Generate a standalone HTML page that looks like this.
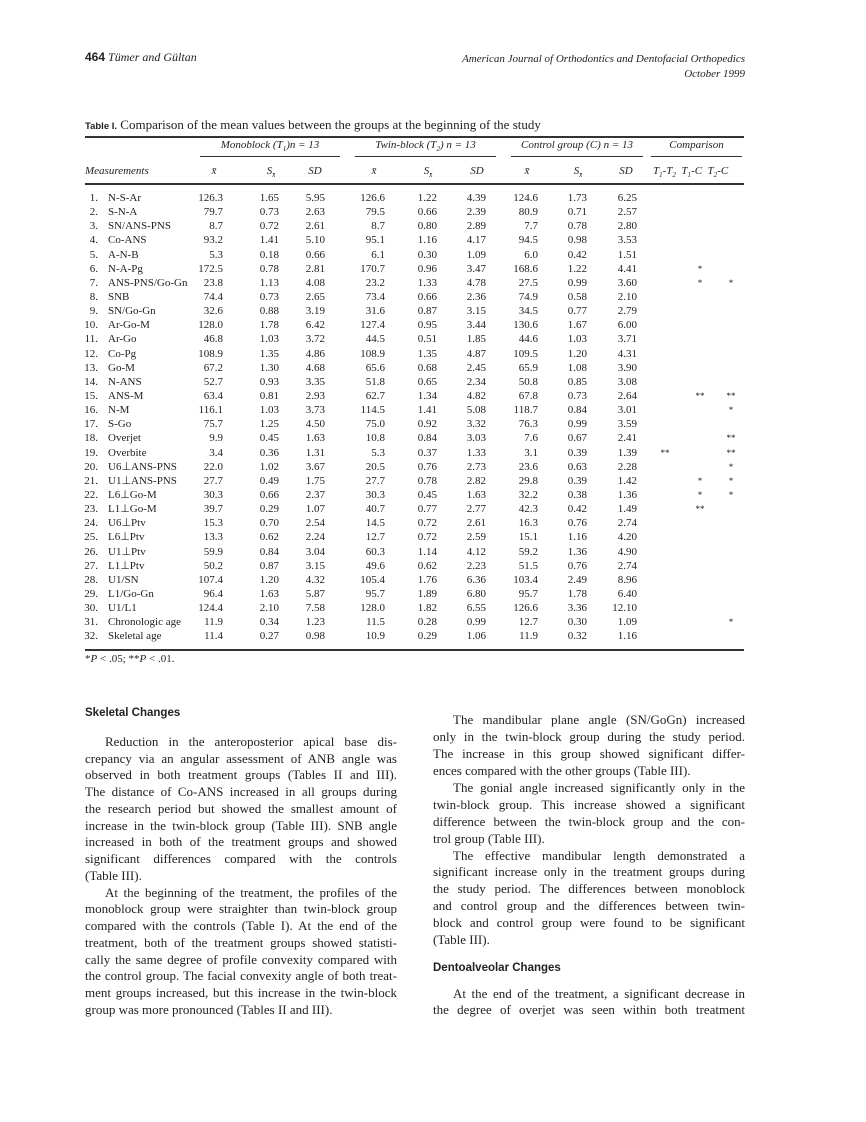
<!DOCTYPE html>
<html><head><meta charset="utf-8"><style>
body{margin:0;background:#fff;}
#p{position:relative;width:866px;height:1122px;background:#fff;color:#222;font-family:"Liberation Serif",serif;overflow:hidden}
.a{position:absolute;white-space:nowrap}
.r{position:absolute;height:14px;line-height:14px;font-size:11px;left:0;width:866px}
.r span{position:absolute;top:0}
.n{right:768px;text-align:right}
.l{left:108px}
.c1{right:643px}.c2{right:587px}.c3{right:541px}
.c4{right:481px}.c5{right:429px}.c6{right:380px}
.c7{right:328px}.c8{right:279px}.c9{right:229px}
.s1,.s2,.s3{width:24px;text-align:center;font-size:9px}
.s1{left:653px}.s2{left:688px}.s3{left:719px}
.hr{position:absolute;background:#333}
.t{position:absolute;width:312px;font-size:13px;line-height:16px;height:16px;text-align:justify;text-align-last:justify;white-space:nowrap}
.t.e{text-align-last:left}
.t.i{text-indent:20px}
.h{position:absolute;font-family:"Liberation Sans",sans-serif;font-weight:bold;font-size:11.5px}
.hd{position:absolute;font-style:italic;font-size:11px;text-align:center}
</style></head><body><div id="p">
<div class="a" style="left:85px;top:50px;font-size:12px"><b style="font-family:'Liberation Sans',sans-serif">464</b> <i>Tümer and Gültan</i></div>
<div class="a" style="right:121px;top:52px;font-size:11px;font-style:italic;text-align:right;line-height:15px">American Journal of Orthodontics and Dentofacial Orthopedics<br>October 1999</div>
<div class="a" style="left:85px;top:117px;font-size:13px"><b style="font-family:'Liberation Sans',sans-serif;font-size:9.5px">Table I.</b> Comparison of the mean values between the groups at the beginning of the study</div>
<div class="hr" style="left:85px;top:136px;width:659px;height:1.5px"></div>
<div class="hd" style="left:200px;width:140px;top:139px">Monoblock (T<sub style="font-size:7px">1</sub>)n = 13</div>
<div class="hd" style="left:355px;width:141px;top:139px">Twin-block (T<sub style="font-size:7px">2</sub>) n = 13</div>
<div class="hd" style="left:511px;width:132px;top:139px">Control group (C) n = 13</div>
<div class="hd" style="left:651px;width:91px;top:139px">Comparison</div>
<div class="hr" style="left:200px;top:156px;width:140px;height:1px"></div>
<div class="hr" style="left:355px;top:156px;width:141px;height:1px"></div>
<div class="hr" style="left:511px;top:156px;width:132px;height:1px"></div>
<div class="hr" style="left:651px;top:156px;width:91px;height:1px"></div>
<div class="hd" style="left:85px;top:165px;text-align:left">Measurements</div>
<div class="hd" style="left:204px;width:20px;top:165px">x̄</div>
<div class="hd" style="left:261px;width:20px;top:165px">S<sub style="font-size:7px">x̄</sub></div>
<div class="hd" style="left:305px;width:20px;top:165px">SD</div>
<div class="hd" style="left:364px;width:20px;top:165px">x̄</div>
<div class="hd" style="left:418px;width:20px;top:165px">S<sub style="font-size:7px">x̄</sub></div>
<div class="hd" style="left:467px;width:20px;top:165px">SD</div>
<div class="hd" style="left:517px;width:20px;top:165px">x̄</div>
<div class="hd" style="left:568px;width:20px;top:165px">S<sub style="font-size:7px">x̄</sub></div>
<div class="hd" style="left:616px;width:20px;top:165px">SD</div>
<div class="hd" style="left:653px;top:165px;text-align:left">T<sub style="font-size:7px">1</sub>-T<sub style="font-size:7px">2</sub>&nbsp; T<sub style="font-size:7px">1</sub>-C&nbsp; T<sub style="font-size:7px">2</sub>-C</div>
<div class="hr" style="left:85px;top:183px;width:659px;height:2px"></div>

<div class="r" style="top:191px"><span class="n">1.</span><span class="l">N-S-Ar</span><span class="c1">126.3</span><span class="c2">1.65</span><span class="c3">5.95</span><span class="c4">126.6</span><span class="c5">1.22</span><span class="c6">4.39</span><span class="c7">124.6</span><span class="c8">1.73</span><span class="c9">6.25</span></div>
<div class="r" style="top:205px"><span class="n">2.</span><span class="l">S-N-A</span><span class="c1">79.7</span><span class="c2">0.73</span><span class="c3">2.63</span><span class="c4">79.5</span><span class="c5">0.66</span><span class="c6">2.39</span><span class="c7">80.9</span><span class="c8">0.71</span><span class="c9">2.57</span></div>
<div class="r" style="top:219px"><span class="n">3.</span><span class="l">SN/ANS-PNS</span><span class="c1">8.7</span><span class="c2">0.72</span><span class="c3">2.61</span><span class="c4">8.7</span><span class="c5">0.80</span><span class="c6">2.89</span><span class="c7">7.7</span><span class="c8">0.78</span><span class="c9">2.80</span></div>
<div class="r" style="top:233px"><span class="n">4.</span><span class="l">Co-ANS</span><span class="c1">93.2</span><span class="c2">1.41</span><span class="c3">5.10</span><span class="c4">95.1</span><span class="c5">1.16</span><span class="c6">4.17</span><span class="c7">94.5</span><span class="c8">0.98</span><span class="c9">3.53</span></div>
<div class="r" style="top:248px"><span class="n">5.</span><span class="l">A-N-B</span><span class="c1">5.3</span><span class="c2">0.18</span><span class="c3">0.66</span><span class="c4">6.1</span><span class="c5">0.30</span><span class="c6">1.09</span><span class="c7">6.0</span><span class="c8">0.42</span><span class="c9">1.51</span></div>
<div class="r" style="top:262px"><span class="n">6.</span><span class="l">N-A-Pg</span><span class="c1">172.5</span><span class="c2">0.78</span><span class="c3">2.81</span><span class="c4">170.7</span><span class="c5">0.96</span><span class="c6">3.47</span><span class="c7">168.6</span><span class="c8">1.22</span><span class="c9">4.41</span><span class="s2">*</span></div>
<div class="r" style="top:276px"><span class="n">7.</span><span class="l">ANS-PNS/Go-Gn</span><span class="c1">23.8</span><span class="c2">1.13</span><span class="c3">4.08</span><span class="c4">23.2</span><span class="c5">1.33</span><span class="c6">4.78</span><span class="c7">27.5</span><span class="c8">0.99</span><span class="c9">3.60</span><span class="s2">*</span><span class="s3">*</span></div>
<div class="r" style="top:290px"><span class="n">8.</span><span class="l">SNB</span><span class="c1">74.4</span><span class="c2">0.73</span><span class="c3">2.65</span><span class="c4">73.4</span><span class="c5">0.66</span><span class="c6">2.36</span><span class="c7">74.9</span><span class="c8">0.58</span><span class="c9">2.10</span></div>
<div class="r" style="top:304px"><span class="n">9.</span><span class="l">SN/Go-Gn</span><span class="c1">32.6</span><span class="c2">0.88</span><span class="c3">3.19</span><span class="c4">31.6</span><span class="c5">0.87</span><span class="c6">3.15</span><span class="c7">34.5</span><span class="c8">0.77</span><span class="c9">2.79</span></div>
<div class="r" style="top:318px"><span class="n">10.</span><span class="l">Ar-Go-M</span><span class="c1">128.0</span><span class="c2">1.78</span><span class="c3">6.42</span><span class="c4">127.4</span><span class="c5">0.95</span><span class="c6">3.44</span><span class="c7">130.6</span><span class="c8">1.67</span><span class="c9">6.00</span></div>
<div class="r" style="top:332px"><span class="n">11.</span><span class="l">Ar-Go</span><span class="c1">46.8</span><span class="c2">1.03</span><span class="c3">3.72</span><span class="c4">44.5</span><span class="c5">0.51</span><span class="c6">1.85</span><span class="c7">44.6</span><span class="c8">1.03</span><span class="c9">3.71</span></div>
<div class="r" style="top:347px"><span class="n">12.</span><span class="l">Co-Pg</span><span class="c1">108.9</span><span class="c2">1.35</span><span class="c3">4.86</span><span class="c4">108.9</span><span class="c5">1.35</span><span class="c6">4.87</span><span class="c7">109.5</span><span class="c8">1.20</span><span class="c9">4.31</span></div>
<div class="r" style="top:361px"><span class="n">13.</span><span class="l">Go-M</span><span class="c1">67.2</span><span class="c2">1.30</span><span class="c3">4.68</span><span class="c4">65.6</span><span class="c5">0.68</span><span class="c6">2.45</span><span class="c7">65.9</span><span class="c8">1.08</span><span class="c9">3.90</span></div>
<div class="r" style="top:375px"><span class="n">14.</span><span class="l">N-ANS</span><span class="c1">52.7</span><span class="c2">0.93</span><span class="c3">3.35</span><span class="c4">51.8</span><span class="c5">0.65</span><span class="c6">2.34</span><span class="c7">50.8</span><span class="c8">0.85</span><span class="c9">3.08</span></div>
<div class="r" style="top:389px"><span class="n">15.</span><span class="l">ANS-M</span><span class="c1">63.4</span><span class="c2">0.81</span><span class="c3">2.93</span><span class="c4">62.7</span><span class="c5">1.34</span><span class="c6">4.82</span><span class="c7">67.8</span><span class="c8">0.73</span><span class="c9">2.64</span><span class="s2">**</span><span class="s3">**</span></div>
<div class="r" style="top:403px"><span class="n">16.</span><span class="l">N-M</span><span class="c1">116.1</span><span class="c2">1.03</span><span class="c3">3.73</span><span class="c4">114.5</span><span class="c5">1.41</span><span class="c6">5.08</span><span class="c7">118.7</span><span class="c8">0.84</span><span class="c9">3.01</span><span class="s3">*</span></div>
<div class="r" style="top:417px"><span class="n">17.</span><span class="l">S-Go</span><span class="c1">75.7</span><span class="c2">1.25</span><span class="c3">4.50</span><span class="c4">75.0</span><span class="c5">0.92</span><span class="c6">3.32</span><span class="c7">76.3</span><span class="c8">0.99</span><span class="c9">3.59</span></div>
<div class="r" style="top:431px"><span class="n">18.</span><span class="l">Overjet</span><span class="c1">9.9</span><span class="c2">0.45</span><span class="c3">1.63</span><span class="c4">10.8</span><span class="c5">0.84</span><span class="c6">3.03</span><span class="c7">7.6</span><span class="c8">0.67</span><span class="c9">2.41</span><span class="s3">**</span></div>
<div class="r" style="top:446px"><span class="n">19.</span><span class="l">Overbite</span><span class="c1">3.4</span><span class="c2">0.36</span><span class="c3">1.31</span><span class="c4">5.3</span><span class="c5">0.37</span><span class="c6">1.33</span><span class="c7">3.1</span><span class="c8">0.39</span><span class="c9">1.39</span><span class="s1">**</span><span class="s3">**</span></div>
<div class="r" style="top:460px"><span class="n">20.</span><span class="l">U6⊥ANS-PNS</span><span class="c1">22.0</span><span class="c2">1.02</span><span class="c3">3.67</span><span class="c4">20.5</span><span class="c5">0.76</span><span class="c6">2.73</span><span class="c7">23.6</span><span class="c8">0.63</span><span class="c9">2.28</span><span class="s3">*</span></div>
<div class="r" style="top:474px"><span class="n">21.</span><span class="l">U1⊥ANS-PNS</span><span class="c1">27.7</span><span class="c2">0.49</span><span class="c3">1.75</span><span class="c4">27.7</span><span class="c5">0.78</span><span class="c6">2.82</span><span class="c7">29.8</span><span class="c8">0.39</span><span class="c9">1.42</span><span class="s2">*</span><span class="s3">*</span></div>
<div class="r" style="top:488px"><span class="n">22.</span><span class="l">L6⊥Go-M</span><span class="c1">30.3</span><span class="c2">0.66</span><span class="c3">2.37</span><span class="c4">30.3</span><span class="c5">0.45</span><span class="c6">1.63</span><span class="c7">32.2</span><span class="c8">0.38</span><span class="c9">1.36</span><span class="s2">*</span><span class="s3">*</span></div>
<div class="r" style="top:502px"><span class="n">23.</span><span class="l">L1⊥Go-M</span><span class="c1">39.7</span><span class="c2">0.29</span><span class="c3">1.07</span><span class="c4">40.7</span><span class="c5">0.77</span><span class="c6">2.77</span><span class="c7">42.3</span><span class="c8">0.42</span><span class="c9">1.49</span><span class="s2">**</span></div>
<div class="r" style="top:516px"><span class="n">24.</span><span class="l">U6⊥Ptv</span><span class="c1">15.3</span><span class="c2">0.70</span><span class="c3">2.54</span><span class="c4">14.5</span><span class="c5">0.72</span><span class="c6">2.61</span><span class="c7">16.3</span><span class="c8">0.76</span><span class="c9">2.74</span></div>
<div class="r" style="top:530px"><span class="n">25.</span><span class="l">L6⊥Ptv</span><span class="c1">13.3</span><span class="c2">0.62</span><span class="c3">2.24</span><span class="c4">12.7</span><span class="c5">0.72</span><span class="c6">2.59</span><span class="c7">15.1</span><span class="c8">1.16</span><span class="c9">4.20</span></div>
<div class="r" style="top:545px"><span class="n">26.</span><span class="l">U1⊥Ptv</span><span class="c1">59.9</span><span class="c2">0.84</span><span class="c3">3.04</span><span class="c4">60.3</span><span class="c5">1.14</span><span class="c6">4.12</span><span class="c7">59.2</span><span class="c8">1.36</span><span class="c9">4.90</span></div>
<div class="r" style="top:559px"><span class="n">27.</span><span class="l">L1⊥Ptv</span><span class="c1">50.2</span><span class="c2">0.87</span><span class="c3">3.15</span><span class="c4">49.6</span><span class="c5">0.62</span><span class="c6">2.23</span><span class="c7">51.5</span><span class="c8">0.76</span><span class="c9">2.74</span></div>
<div class="r" style="top:573px"><span class="n">28.</span><span class="l">U1/SN</span><span class="c1">107.4</span><span class="c2">1.20</span><span class="c3">4.32</span><span class="c4">105.4</span><span class="c5">1.76</span><span class="c6">6.36</span><span class="c7">103.4</span><span class="c8">2.49</span><span class="c9">8.96</span></div>
<div class="r" style="top:587px"><span class="n">29.</span><span class="l">L1/Go-Gn</span><span class="c1">96.4</span><span class="c2">1.63</span><span class="c3">5.87</span><span class="c4">95.7</span><span class="c5">1.89</span><span class="c6">6.80</span><span class="c7">95.7</span><span class="c8">1.78</span><span class="c9">6.40</span></div>
<div class="r" style="top:601px"><span class="n">30.</span><span class="l">U1/L1</span><span class="c1">124.4</span><span class="c2">2.10</span><span class="c3">7.58</span><span class="c4">128.0</span><span class="c5">1.82</span><span class="c6">6.55</span><span class="c7">126.6</span><span class="c8">3.36</span><span class="c9">12.10</span></div>
<div class="r" style="top:615px"><span class="n">31.</span><span class="l">Chronologic age</span><span class="c1">11.9</span><span class="c2">0.34</span><span class="c3">1.23</span><span class="c4">11.5</span><span class="c5">0.28</span><span class="c6">0.99</span><span class="c7">12.7</span><span class="c8">0.30</span><span class="c9">1.09</span><span class="s3">*</span></div>
<div class="r" style="top:629px"><span class="n">32.</span><span class="l">Skeletal age</span><span class="c1">11.4</span><span class="c2">0.27</span><span class="c3">0.98</span><span class="c4">10.9</span><span class="c5">0.29</span><span class="c6">1.06</span><span class="c7">11.9</span><span class="c8">0.32</span><span class="c9">1.16</span></div>
<div class="hr" style="left:85px;top:649px;width:659px;height:2px"></div>
<div class="a" style="left:85px;top:653px;font-size:11px">*<i>P</i> &lt; .05; **<i>P</i> &lt; .01.</div>

<div class="h" style="left:85px;top:707px">Skeletal Changes</div>
<div class="t i" style="left:85px;top:734px">Reduction in the anteroposterior apical base dis-</div>
<div class="t" style="left:85px;top:751px">crepancy via an angular assessment of ANB angle was</div>
<div class="t" style="left:85px;top:767px">observed in both treatment groups (Tables II and III).</div>
<div class="t" style="left:85px;top:784px">The distance of Co-ANS increased in all groups during</div>
<div class="t" style="left:85px;top:801px">the research period but showed the smallest amount of</div>
<div class="t" style="left:85px;top:818px">increase in the twin-block group (Table III). SNB angle</div>
<div class="t" style="left:85px;top:834px">increased in both of the treatment groups and showed</div>
<div class="t" style="left:85px;top:851px">significant differences compared with the controls</div>
<div class="t e" style="left:85px;top:868px">(Table III).</div>
<div class="t i" style="left:85px;top:885px">At the beginning of the treatment, the profiles of the</div>
<div class="t" style="left:85px;top:901px">monoblock group were straighter than twin-block group</div>
<div class="t" style="left:85px;top:918px">compared with the controls (Table I). At the end of the</div>
<div class="t" style="left:85px;top:935px">treatment, both of the treatment groups showed statisti-</div>
<div class="t" style="left:85px;top:952px">cally the same degree of profile convexity compared with</div>
<div class="t" style="left:85px;top:968px">the control group. The facial convexity angle of both treat-</div>
<div class="t" style="left:85px;top:985px">ment groups increased, but this increase in the twin-block</div>
<div class="t e" style="left:85px;top:1002px">group was more pronounced (Tables II and III).</div>

<div class="t i" style="left:433px;top:712px">The mandibular plane angle (SN/GoGn) increased</div>
<div class="t" style="left:433px;top:729px">only in the twin-block group during the study period.</div>
<div class="t" style="left:433px;top:746px">The increase in this group showed significant differ-</div>
<div class="t e" style="left:433px;top:763px">ences compared with the other groups (Table III).</div>
<div class="t i" style="left:433px;top:780px">The gonial angle increased significantly only in the</div>
<div class="t" style="left:433px;top:797px">twin-block group. This increase showed a significant</div>
<div class="t" style="left:433px;top:814px">difference between the twin-block group and the con-</div>
<div class="t e" style="left:433px;top:831px">trol group (Table III).</div>
<div class="t i" style="left:433px;top:848px">The effective mandibular length demonstrated a</div>
<div class="t" style="left:433px;top:864px">significant increase only in the treatment groups during</div>
<div class="t" style="left:433px;top:881px">the study period. The differences between monoblock</div>
<div class="t" style="left:433px;top:898px">and control group and the differences between twin-</div>
<div class="t" style="left:433px;top:915px">block and control group were found to be significant</div>
<div class="t e" style="left:433px;top:932px">(Table III).</div>
<div class="h" style="left:433px;top:962px">Dentoalveolar Changes</div>
<div class="t i" style="left:433px;top:986px">At the end of the treatment, a significant decrease in</div>
<div class="t" style="left:433px;top:1002px">the degree of overjet was seen within both treatment</div>
</div></body></html>
